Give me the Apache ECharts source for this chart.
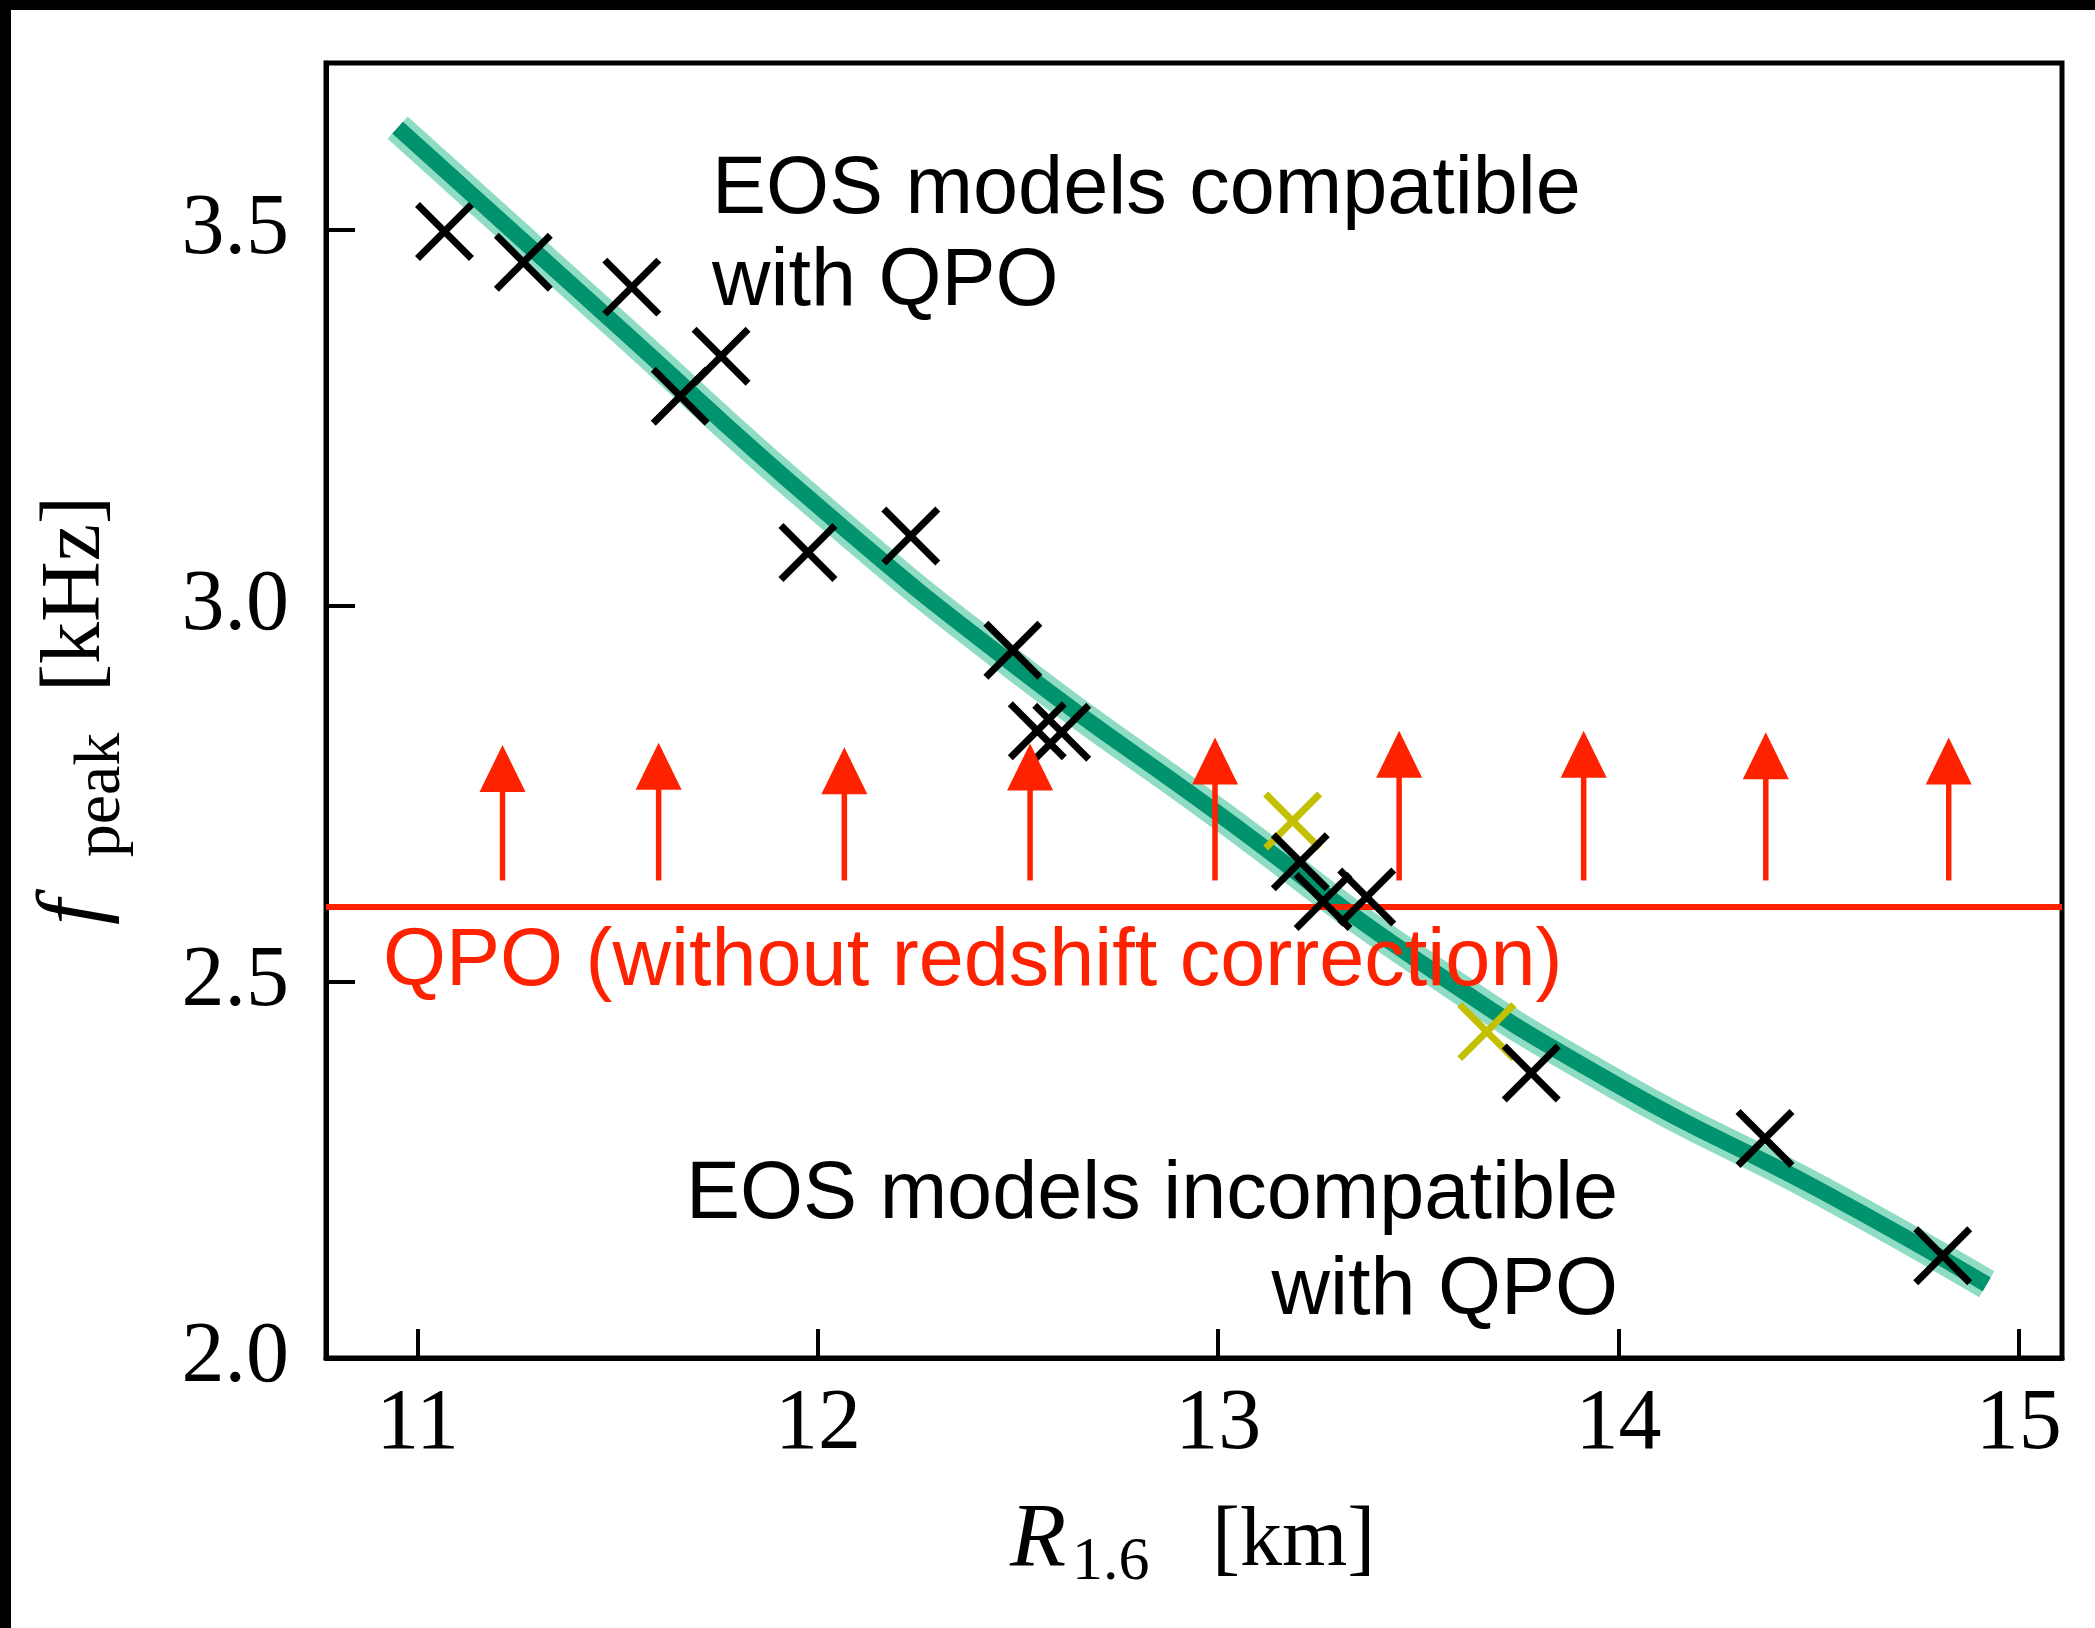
<!DOCTYPE html>
<html><head><meta charset="utf-8">
<script src="https://cdn.jsdelivr.net/npm/echarts@6/dist/echarts.min.js"></script>
<style>html,body{margin:0;padding:0;background:#fff}#c{width:2095px;height:1628px}</style>
</head><body><div id="c"></div>
<script>
// ---- data ----
const xTicks = [11, 12, 13, 14, 15];
const yTicks = [2.0, 2.5, 3.0, 3.5];
const blackR = [11.067, 11.264, 11.535, 11.758, 11.656, 11.975, 12.232, 12.487, 12.548, 12.609, 13.205, 13.262, 13.371, 13.782, 14.366, 14.810];
const blackF = [3.498, 3.457, 3.424, 3.332, 3.279, 3.071, 3.093, 2.941, 2.834, 2.832, 2.660, 2.607, 2.613, 2.379, 2.292, 2.136];
const yellowR = [13.186, 13.671];
const yellowF = [2.714, 2.434];
const fitR = [10.95, 11.5, 12.0, 12.5, 13.0, 13.5, 14.0, 14.5, 14.92];
const fitF = [3.636, 3.372, 3.133, 2.917, 2.724, 2.528, 2.362, 2.224, 2.098];
const qpoF = 2.597;
const arrowR = [11.212, 11.602, 12.066, 12.530, 12.992, 13.452, 13.913, 14.368, 14.825];
const arrowTail = [2.635, 2.635, 2.635, 2.635, 2.635, 2.635, 2.635, 2.635, 2.635];
const arrowTip = [2.815, 2.818, 2.812, 2.817, 2.825, 2.834, 2.834, 2.832, 2.825];
const xLabel = {main: 'R', sub: '1.6', unit: '[km]'};
const yLabel = {main: 'f', sub: 'peak', unit: '[kHz]'};
const noteTop = ['EOS models compatible', 'with QPO'];
const noteBottom = ['EOS models incompatible', 'with QPO'];
const qpoText = 'QPO (without redshift correction)';

// ---- chart ----
const chart = echarts.init(document.getElementById('c'), null, {renderer: 'canvas'});
const SERIF = '"Liberation Serif", "DejaVu Serif", serif';
const SANS = '"Liberation Sans", Arial, sans-serif';
const RED = '#ff2200';

function crossItem(color) {
  return function (params, api) {
    const p = api.coord([api.value(0), api.value(1)]);
    const h = 27;
    const st = {stroke: color, lineWidth: 7, lineCap: 'butt'};
    return {type: 'group', children: [
      {type: 'line', shape: {x1: p[0] - h, y1: p[1] - h, x2: p[0] + h, y2: p[1] + h}, style: st},
      {type: 'line', shape: {x1: p[0] - h, y1: p[1] + h, x2: p[0] + h, y2: p[1] - h}, style: st}
    ]};
  };
}

const option = {
  backgroundColor: '#fff',
  animation: false,
  grid: {left: 326, right: 33, top: 63, bottom: 270, show: true, borderColor: '#000', borderWidth: 5, backgroundColor: 'transparent'},
  xAxis: {
    type: 'value', min: 10.771, max: 15.108,
    axisLine: {show: true, onZero: false, lineStyle: {color: '#000', width: 5}},
    axisTick: {show: true, inside: true, length: 29, lineStyle: {color: '#000', width: 4}, customValues: xTicks},
    axisLabel: {customValues: xTicks, color: '#000', fontFamily: SERIF, fontSize: 86, margin: 24, formatter: v => String(v)},
    splitLine: {show: false}
  },
  yAxis: {
    type: 'value', min: 2.0, max: 3.722,
    axisLine: {show: true, onZero: false, lineStyle: {color: '#000', width: 5}},
    axisTick: {show: true, inside: true, length: 29, lineStyle: {color: '#000', width: 4}, customValues: yTicks},
    axisLabel: {customValues: yTicks, color: '#000', fontFamily: SERIF, fontSize: 86, margin: 37, formatter: v => v.toFixed(1)},
    splitLine: {show: false}
  },
  series: [
    {type: 'line', data: fitR.map((r, i) => [r, fitF[i]]), smooth: 0.5, showSymbol: false, silent: true,
     lineStyle: {color: '#8edcc3', width: 30, cap: 'butt'}, z: 2},
    {type: 'line', data: fitR.map((r, i) => [r, fitF[i]]), smooth: 0.5, showSymbol: false, silent: true,
     lineStyle: {color: '#00936d', width: 16, cap: 'butt'}, z: 3},
    {type: 'custom', data: yellowR.map((r, i) => [r, yellowF[i]]), renderItem: crossItem('#c2c000'), z: 4, silent: true},
    {type: 'custom', data: blackR.map((r, i) => [r, blackF[i]]), renderItem: crossItem('#000'), z: 5, silent: true,
     markLine: {silent: true, symbol: ['none', 'none'], label: {show: false},
       lineStyle: {color: RED, width: 6, type: 'solid'}, data: [{yAxis: qpoF}]}},
    {type: 'custom', data: arrowR.map((r, i) => [r, arrowTail[i], arrowTip[i]]), z: 6, silent: true,
     renderItem: function (params, api) {
       const tail = api.coord([api.value(0), api.value(1)]);
       const tip = api.coord([api.value(0), api.value(2)]);
       const hw = 23, hh = 47;
       return {type: 'group', children: [
         {type: 'line', shape: {x1: tail[0], y1: tail[1], x2: tip[0], y2: tip[1] + hh - 2}, style: {stroke: RED, lineWidth: 5.5}},
         {type: 'polygon', shape: {points: [[tip[0], tip[1]], [tip[0] - hw, tip[1] + hh], [tip[0] + hw, tip[1] + hh]]}, style: {fill: RED}}
       ]};
     }}
  ],
  graphic: [
    {type: 'rect', shape: {x: 0, y: 0, width: 2095, height: 10}, style: {fill: '#000'}, z: 100},
    {type: 'rect', shape: {x: 0, y: 0, width: 11, height: 1628}, style: {fill: '#000'}, z: 100},
    {type: 'text', x: 712, y: 191, style: {text: noteTop[0], font: '81px ' + SANS, fill: '#000', align: 'left', verticalAlign: 'middle'}, z: 50},
    {type: 'text', x: 712, y: 283, style: {text: noteTop[1], font: '81px ' + SANS, fill: '#000', align: 'left', verticalAlign: 'middle'}, z: 50},
    {type: 'text', x: 1618, y: 1196, style: {text: noteBottom[0], font: '81px ' + SANS, fill: '#000', align: 'right', verticalAlign: 'middle'}, z: 50},
    {type: 'text', x: 1618, y: 1292, style: {text: noteBottom[1], font: '81px ' + SANS, fill: '#000', align: 'right', verticalAlign: 'middle'}, z: 50},
    {type: 'text', x: 383, y: 963, style: {text: qpoText, font: '81px ' + SANS, fill: RED, align: 'left', verticalAlign: 'middle'}, z: 50},
    // x axis title
    {type: 'text', x: 1010, y: 1542, style: {text: xLabel.main, font: 'italic 92px ' + SERIF, fill: '#000', align: 'left', verticalAlign: 'middle'}, z: 50},
    {type: 'text', x: 1072, y: 1563, style: {text: xLabel.sub, font: '62px ' + SERIF, fill: '#000', align: 'left', verticalAlign: 'middle'}, z: 50},
    {type: 'text', x: 1212, y: 1543, style: {text: xLabel.unit, font: '84px ' + SERIF, fill: '#000', align: 'left', verticalAlign: 'middle'}, z: 50},
    // y axis title (rotated)
    {type: 'group', x: 102, y: 717, rotation: Math.PI / 2, z: 50, children: [
      {type: 'text', x: -208, y: -26, style: {text: yLabel.main, font: 'italic 92px ' + SERIF, fill: '#000', align: 'left', verticalAlign: 'middle'}},
      {type: 'text', x: -78, y: 0, style: {text: yLabel.sub, font: '66px ' + SERIF, fill: '#000', align: 'center', verticalAlign: 'middle'}},
      {type: 'text', x: 123, y: -25, style: {text: yLabel.unit, font: '84px ' + SERIF, fill: '#000', align: 'center', verticalAlign: 'middle'}}
    ]}
  ]
};
chart.setOption(option);
</script>
</body></html>
